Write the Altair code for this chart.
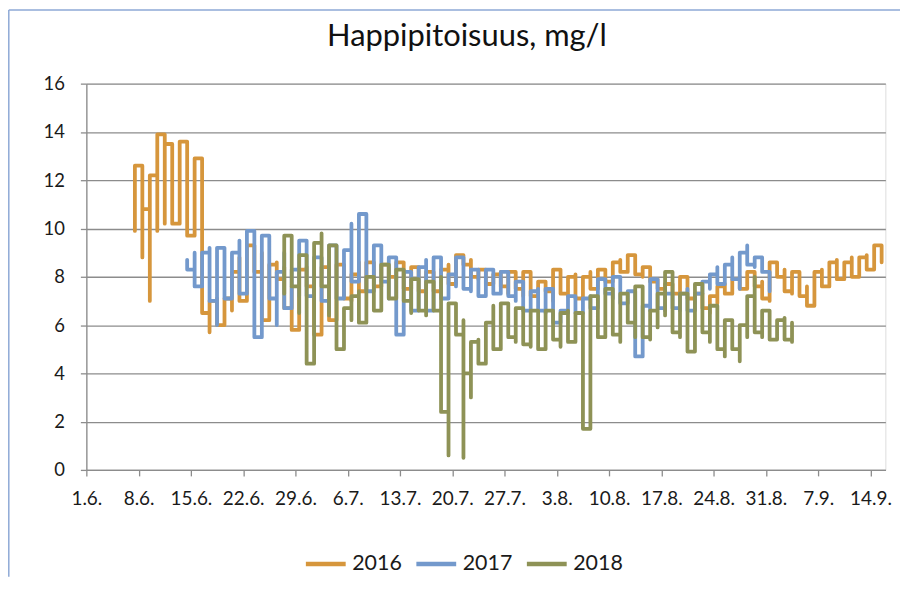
import altair as alt
import pandas as pd

TITLE = "Happipitoisuus, mg/l"
YEARS = ["2016", "2017", "2018"]
COLORS = ["#D6963C", "#7399CC", "#8E9256"]

# x tick positions (days after 1 June) -> labels 1.6., 8.6., ..., 14.9.
TICK_DAYS = list(range(0, 106, 7))
Y_TICKS = [0, 2, 4, 6, 8, 10, 12, 14, 16]

# Daily readings (several per day, all plotted on the same date)
START_2016 = 6
DAYS_2016 = [
    [9.9, 12.6], [12.6, 8.8, 10.8], [10.8, 7.0, 12.2], [12.2, 9.9, 13.9], [13.9, 10.2, 13.5],
    [10.2, 13.5], [10.3, 13.6], [9.7, 13.6], [9.7, 12.9], [6.5, 12.9],
    [6.5, 5.7, 7.0], [6.0, 7.1], [6.4, 7.1], [6.6, 8.2], [7.0, 8.8],
    [7.8, 9.3], [8.2, 9.2], [6.2, 9.0], [7.6, 8.5], [7.9, 8.6],
    [6.7, 8.4], [5.8, 7.6], [6.6, 8.3], [7.6, 8.4], [5.6, 7.7],
    [6.6, 8.4], [6.2, 8.4], [6.9, 8.5], [7.1, 8.0], [7.0, 8.1],
    [7.4, 8.6], [8.0, 8.6], [7.6, 8.5], [7.8, 8.5], [8.0, 8.5],
    [7.9, 8.6], [7.5, 8.3], [7.8, 8.4], [7.4, 8.2], [7.6, 8.2],
    [7.4, 8.1], [7.6, 8.3], [7.7, 8.5], [8.3, 8.9], [8.5, 8.9],
    [8.0, 8.7], [7.9, 8.3], [7.7, 8.2], [7.8, 8.1], [7.6, 8.2],
    [7.3, 8.2], [7.5, 8.0], [7.2, 8.2], [7.2, 7.6], [7.3, 7.8],
    [7.4, 7.8], [7.0, 8.3], [7.3, 8.2], [7.2, 8.0], [7.1, 8.1],
    [7.4, 8.0], [7.5, 8.2], [7.6, 8.3], [7.8, 8.2], [8.2, 8.6],
    [8.2, 8.7], [8.3, 8.9], [8.1, 8.5], [8.0, 8.4], [7.8, 8.2],
    [7.5, 7.9], [7.4, 7.7], [7.3, 7.7], [7.2, 8.0], [7.1, 7.4],
    [6.9, 7.3], [6.7, 7.2], [6.5, 7.2], [6.9, 7.6], [7.3, 7.7],
    [7.4, 7.9], [7.5, 8.0], [7.8, 8.2], [7.6, 8.2], [7.1, 7.8],
    [7.0, 8.6], [8.0, 8.5], [7.4, 8.3], [7.3, 8.2], [7.2, 7.9],
    [6.8, 7.6], [7.3, 8.2], [7.6, 8.3], [7.9, 8.6], [7.9, 8.7],
    [7.9, 8.6], [8.0, 8.8], [8.1, 8.8], [8.3, 8.9], [8.6, 9.3],
    [8.6, 9.0],
]

START_2017 = 13
DAYS_2017 = [
    [8.7, 8.3], [7.6, 9.0], [7.7, 9.0], [7.0, 9.2], [6.0, 9.2],
    [7.1, 9.0], [7.1, 9.0], [7.3, 9.5], [7.5, 9.9], [5.5, 9.1],
    [7.1, 9.7], [7.1, 9.7], [6.0, 8.2], [6.7, 9.0], [6.9, 8.3],
    [7.2, 9.5], [7.2, 9.1], [7.5, 8.8], [7.0, 8.6], [6.6, 9.3],
    [7.1, 9.3], [7.5, 9.1], [7.8, 10.2], [8.4, 10.6], [7.4, 9.1],
    [7.5, 9.3], [7.8, 8.6], [7.1, 8.8], [5.6, 8.0], [5.9, 8.2],
    [6.6, 7.7], [6.9, 8.4], [6.6, 8.7], [7.2, 8.8], [7.1, 8.8],
    [7.2, 8.1], [7.6, 8.8], [7.5, 8.3], [7.4, 8.3], [7.2, 7.9],
    [7.3, 8.3], [7.3, 8.2], [7.3, 8.2], [7.2, 7.7], [7.0, 7.8],
    [6.6, 7.2], [6.7, 7.4], [6.6, 7.5], [6.5, 7.5], [6.1, 7.4],
    [6.2, 6.6], [6.5, 7.2], [6.5, 7.2], [6.6, 7.1], [6.7, 7.2],
    [7.2, 7.9], [7.3, 7.9], [7.1, 8.0], [6.9, 7.5], [6.9, 7.4],
    [4.7, 6.7], [5.0, 6.8], [6.6, 7.9], [6.7, 7.8], [6.6, 7.3],
    [6.7, 7.3], [6.6, 7.3], [6.6, 7.5], [6.9, 7.3], [7.3, 7.8],
    [7.5, 8.1], [7.7, 8.4], [7.8, 8.5], [7.9, 8.8], [7.5, 9.0],
    [8.5, 9.3], [8.4, 8.8], [8.2, 8.6], [7.4, 8.1],
]

START_2018 = 26
DAYS_2018 = [
    [7.3, 9.7], [7.6, 9.0], [6.5, 8.9], [4.4, 8.6], [7.6, 9.4],
    [7.6, 9.8], [6.4, 9.3], [5.0, 7.8], [5.9, 6.7], [6.2, 7.2],
    [6.1, 7.4], [6.4, 8.0], [6.6, 8.0], [6.9, 8.5], [7.1, 8.4],
    [7.1, 8.3], [7.0, 8.2], [6.5, 7.9], [6.6, 7.8], [6.4, 7.8],
    [6.6, 7.7], [8.0, 2.4], [1.7, 0.6, 6.9], [6.6, 5.6], [6.2, 0.5, 4.0],
    [3.0, 5.3], [4.4, 5.4], [4.4, 6.1], [5.0, 6.8], [5.5, 6.9],
    [5.5, 6.9], [5.3, 6.7], [5.2, 6.6], [5.1, 6.6], [5.0, 6.5],
    [5.2, 6.6], [5.4, 6.1], [5.1, 6.5], [5.3, 6.6], [5.5, 6.5],
    [6.5, 1.7], [3.6, 7.2], [5.5, 6.8], [6.0, 7.5], [5.6, 7.2],
    [5.3, 7.3], [6.1, 7.3], [5.5, 7.6], [5.5, 6.8], [5.4, 6.6],
    [5.9, 7.3], [6.4, 8.2], [5.7, 7.5], [5.5, 7.3], [4.9, 6.5],
    [5.2, 7.7], [5.7, 7.3], [5.3, 6.8], [5.0, 6.2], [4.7, 6.2],
    [5.0, 5.8], [4.5, 6.0], [5.5, 7.2], [5.7, 8.0], [5.5, 6.6],
    [5.4, 6.3], [5.5, 6.2], [5.4, 6.3], [5.3, 6.1],
]

SERIES = [("2016", START_2016, DAYS_2016),
          ("2017", START_2017, DAYS_2017),
          ("2018", START_2018, DAYS_2018)]

rows = []
seq = 0
for year, start, days in SERIES:
    prev = None
    for k, vals in enumerate(days):
        vals = list(vals)
        # two readings: draw them in the order that continues from the previous day
        if len(vals) == 2 and prev is not None:
            if abs(vals[1] - prev) < abs(vals[0] - prev):
                vals = [vals[1], vals[0]]
        for v in vals:
            rows.append({"year": year, "t": start + k + 0.5, "v": v, "i": seq})
            seq += 1
        prev = vals[-1]
df = pd.DataFrame(rows)

GRID = "#8C8C8C"
FONT = "Lato"
W, H = 802.6, 388.0
PAD = {"left": 78.7, "top": 74.7, "right": 14.7, "bottom": 107.3}

lines = alt.Chart(df).mark_line(
    strokeWidth=3.8, strokeJoin="round", strokeCap="round", interpolate="step-after"
).encode(
    x=alt.X("t:Q",
            scale=alt.Scale(domain=[0, 107], nice=False, zero=False),
            axis=alt.Axis(values=TICK_DAYS, title=None, grid=False,
                          labelExpr="timeFormat(datetime(2016, 5, 1 + datum.value), '%-d.%-m.')",
                          domainColor=GRID, domainWidth=1.3, tickColor=GRID, tickWidth=1.3,
                          tickSize=6, labelPadding=14, labelFontSize=19, labelFont=FONT,
                          labelColor="#1a1a1a", labelFlush=False, labelOverlap=False)),
    y=alt.Y("v:Q",
            scale=alt.Scale(domain=[0, 16], nice=False, zero=True),
            axis=alt.Axis(values=Y_TICKS, title=None, grid=True, gridColor=GRID, gridWidth=1.3,
                          domainColor=GRID, domainWidth=1.3, tickColor=GRID, tickWidth=1.3,
                          tickSize=6, labelPadding=16, labelFontSize=18.5, labelFont=FONT,
                          labelColor="#1a1a1a")),
    color=alt.Color("year:N",
                    scale=alt.Scale(domain=YEARS, range=COLORS),
                    legend=alt.Legend(title=None, orient="none", direction="horizontal",
                                      legendX=218, legendY=460, symbolType="stroke",
                                      symbolSize=1600, symbolStrokeWidth=4.5,
                                      labelFontSize=21.5, labelFont=FONT, labelColor="#1a1a1a",
                                      labelOffset=4, columnPadding=5)),
    order=alt.Order("i:Q"),
)

title_df = pd.DataFrame({"label": [TITLE]})
title = alt.Chart(title_df).mark_text(
    font=FONT, fontSize=31, color="#111111", align="center", baseline="alphabetic"
).encode(text="label:N", x=alt.value(382.3), y=alt.value(-37.7))

border_left = alt.Chart(title_df).mark_rule(color="#8EA9D6", strokeWidth=1.5).encode(
    x=alt.value(-77.9), y=alt.value(-74.0), y2=alt.value(H + PAD["bottom"]))
border_top = alt.Chart(title_df).mark_rule(color="#8EA9D6", strokeWidth=1.5).encode(
    x=alt.value(-77.9), x2=alt.value(W + PAD["right"]), y=alt.value(-74.0))

chart = alt.layer(border_left, border_top, lines, title).properties(
    width=W, height=H,
    autosize=alt.AutoSizeParams(type="none"),
    padding=PAD,
).configure_view(stroke=None).configure(background="white")

chart.save("out.html", embed_options={"renderer": "svg", "actions": False})
